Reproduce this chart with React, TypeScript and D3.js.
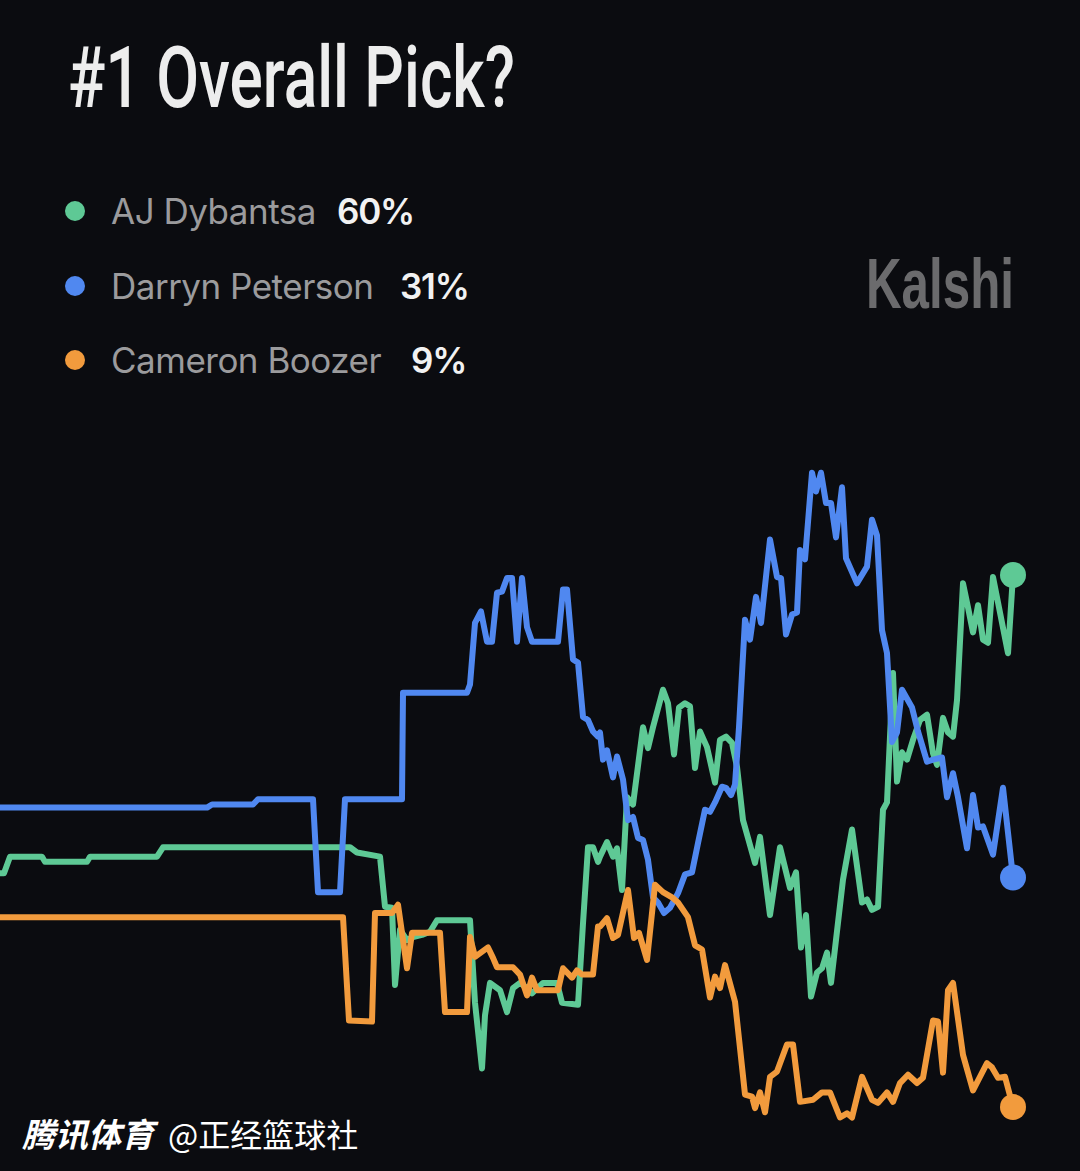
import React from "react";
import * as d3 from "d3";

const titleText = "#1 Overall Pick?";
const players = ["AJ Dybantsa", "Darryn Peterson", "Cameron Boozer"];
const latestOdds = ["60%", "31%", "9%"];
const colors = ["#5ec995", "#5088f0", "#f29b3d"];
const brand = "Kalshi";
const footerBold = "腾讯体育";
const footerRegular = "@正经篮球社";

// [time index, probability %]
const dybantsa: [number, number][] = [
  [0, 31.5], [0.4, 31.5], [1.0, 33.1], [4.2, 33.1], [4.5, 32.6], [8.7, 32.6], [9.0, 33.1], [15.7, 33.1],
  [16.3, 34.0], [35.0, 34.0], [35.7, 33.5], [38.0, 33.1], [38.5, 28.3], [39.2, 28.2], [39.5, 20.8],
  [40.0, 26.1], [40.7, 25.1], [41.3, 25.4], [42.2, 25.6], [43.0, 25.9], [43.7, 27.0], [47.0, 27.0],
  [47.5, 19.1], [48.2, 12.8], [48.5, 17.9], [49.0, 21.0], [50.0, 20.3], [50.7, 18.2], [51.3, 20.5],
  [52.0, 21.0], [52.7, 20.5], [53.2, 20.0], [54.3, 21.0], [55.7, 21.0], [56.2, 19.1], [57.8, 18.9],
  [58.3, 26.7], [58.8, 34.0], [59.3, 34.0], [59.8, 32.6], [60.0, 33.1], [60.7, 34.5], [61.3, 33.1],
  [61.7, 33.9], [62.2, 29.9], [62.7, 38.8], [63.3, 38.1], [64.3, 45.5], [64.8, 43.5], [65.3, 45.5],
  [66.3, 49.1], [66.8, 47.8], [67.4, 42.9], [67.9, 47.4], [68.5, 47.8], [69.0, 47.5], [69.5, 41.6],
  [70.0, 45.1], [70.7, 43.6], [71.5, 40.2], [72.0, 44.3], [72.6, 44.6], [73.2, 44.0], [73.7, 41.7],
  [74.3, 36.6], [75.5, 32.5], [76.0, 35.0], [77.0, 27.5], [78.0, 34.0], [79.0, 30.1], [79.6, 31.6],
  [80.1, 24.4], [80.6, 27.5], [81.1, 19.7], [81.7, 22.0], [82.2, 22.4], [82.7, 23.9], [83.1, 21.0],
  [84.3, 30.9], [85.2, 35.7], [86.2, 28.7], [86.7, 29.0], [87.2, 28.0], [87.8, 28.3], [88.3, 37.6],
  [88.7, 38.3], [89.0, 44.6], [89.3, 50.7], [89.7, 40.3], [90.2, 43.1], [90.7, 42.4], [91.3, 44.3],
  [92.0, 46.2], [92.7, 46.7], [93.3, 43.0], [93.7, 41.9], [94.3, 46.4], [94.8, 45.0], [95.3, 44.6],
  [95.7, 48.1], [96.3, 59.3], [96.8, 57.0], [97.3, 54.6], [97.8, 57.2], [98.3, 53.9], [98.8, 53.6],
  [99.3, 59.9], [100.8, 52.6], [101.3, 60.1],
];

const peterson: [number, number][] = [
  [0, 37.8], [20.7, 37.8], [21.2, 38.1], [25.3, 38.1], [25.8, 38.6], [31.3, 38.6], [31.8, 29.7],
  [34.0, 29.7], [34.5, 38.6], [40.2, 38.6], [40.3, 48.8], [46.7, 48.8], [47.0, 49.6], [47.5, 55.5],
  [48.1, 56.6], [48.7, 53.7], [49.2, 53.7], [49.7, 58.4], [50.2, 58.5], [50.7, 59.8], [51.2, 59.8],
  [51.7, 53.7], [52.2, 59.8], [52.7, 55.1], [53.2, 53.7], [55.8, 53.7], [56.3, 58.7], [56.7, 58.7],
  [57.3, 52.0], [57.8, 51.7], [58.3, 46.5], [58.8, 46.2], [59.3, 45.1], [59.8, 44.6], [60.0, 45.0],
  [60.3, 42.4], [60.7, 43.3], [61.3, 40.7], [61.7, 42.7], [62.3, 40.5], [62.8, 36.6], [63.3, 36.9],
  [63.8, 34.9], [64.3, 34.7], [64.8, 32.8], [65.3, 29.2], [65.8, 28.7], [66.4, 27.7], [67.0, 28.2],
  [67.8, 29.6], [68.5, 31.4], [69.2, 31.6], [69.8, 34.4], [70.5, 37.6], [71.0, 37.4], [71.5, 38.3],
  [72.2, 39.8], [72.6, 39.7], [73.1, 39.0], [73.5, 40.0], [73.9, 45.5], [74.5, 55.8], [75.0, 53.9],
  [75.6, 58.0], [76.1, 55.5], [77.0, 63.5], [77.7, 59.9], [78.1, 59.8], [78.6, 54.4], [79.2, 56.3],
  [79.7, 56.5], [80.0, 62.5], [80.5, 61.6], [81.2, 69.9], [81.6, 68.1], [82.1, 69.9], [82.6, 67.0],
  [83.1, 67.0], [83.6, 63.7], [84.2, 68.5], [84.6, 61.7], [85.7, 59.3], [86.7, 60.9], [87.2, 65.4],
  [87.7, 63.9], [88.2, 54.8], [88.7, 52.6], [89.2, 44.1], [89.7, 45.0], [90.2, 49.1], [91.2, 47.4],
  [91.8, 45.1], [92.7, 42.2], [93.3, 42.4], [94.2, 42.6], [94.7, 38.8], [95.3, 41.1], [95.8, 38.8],
  [96.7, 33.9], [97.3, 39.0], [97.8, 35.9], [98.3, 36.0], [99.3, 33.3], [100.3, 39.7], [101.3, 31.1],
];

const boozer: [number, number][] = [
  [0, 27.3], [34.3, 27.3], [34.9, 17.4], [37.2, 17.3], [37.5, 27.7], [39.2, 27.7], [39.8, 28.5],
  [40.7, 22.4], [41.2, 25.8], [44.0, 25.8], [44.5, 18.2], [46.7, 18.2], [47.0, 25.4], [47.5, 23.5],
  [48.8, 24.4], [49.3, 23.4], [49.7, 22.5], [51.3, 22.5], [52.0, 21.8], [52.7, 19.8], [53.2, 21.5],
  [53.7, 20.3], [55.8, 20.3], [56.3, 22.4], [57.2, 21.5], [57.7, 22.2], [58.2, 21.8], [59.3, 21.8],
  [59.8, 26.4], [60.0, 26.4], [60.7, 27.2], [61.3, 25.3], [61.8, 25.6], [62.8, 29.9], [63.4, 25.3],
  [63.9, 25.8], [64.7, 23.2], [65.5, 30.4], [66.3, 29.7], [67.2, 29.2], [67.8, 28.7], [68.8, 27.3],
  [69.5, 24.6], [70.2, 24.2], [71.0, 19.6], [71.5, 21.6], [72.0, 20.5], [72.5, 22.7], [73.5, 19.2],
  [74.5, 10.3], [75.2, 10.1], [75.5, 9.0], [76.0, 10.5], [76.5, 8.6], [77.0, 12.0], [77.7, 12.5],
  [78.7, 15.1], [79.3, 15.1], [80.0, 9.6], [81.3, 9.8], [82.2, 10.5], [83.0, 10.5], [84.0, 8.1],
  [84.7, 8.5], [85.2, 8.1], [86.2, 12.0], [87.2, 9.8], [87.8, 9.5], [88.7, 10.5], [89.3, 9.6],
  [90.0, 11.4], [90.8, 12.2], [91.7, 11.4], [92.3, 11.9], [93.3, 17.4], [93.8, 17.3], [94.3, 12.4],
  [94.8, 20.3], [95.3, 21.0], [96.3, 14.1], [97.3, 10.7], [98.7, 13.3], [99.2, 12.9], [99.8, 11.9],
  [100.5, 12.0], [101.3, 9.1],
];

const seriesList = [dybantsa, peterson, boozer];
const drawOrder = [0, 1, 2];

const W = 1080;
const H = 1171;

export default function App() {
  const x = d3.scaleLinear().domain([0, 101.3]).range([0, 1013]);
  const y = d3.scaleLinear().domain([0, 60]).range([1202, 576]);
  const line = d3
    .line<[number, number]>()
    .x((d) => x(d[0]))
    .y((d) => y(d[1]))
    .curve(d3.curveLinear);

  const legendY = [211, 286, 360];
  const pctX = [337, 400, 411];

  return (
    <svg
      width={W}
      height={H}
      viewBox={`0 0 ${W} ${H}`}
      style={{ position: "absolute", left: 0, top: 0, display: "block" }}
    >
      <rect x={0} y={0} width={W} height={H} fill="#0b0c10" />
      <text
        x={68}
        y={107}
        fill="#ededed"
        fontFamily="Roboto, 'Liberation Sans Narrow', sans-serif"
        fontWeight={500}
        fontSize={86}
        textLength={447}
        lengthAdjust="spacingAndGlyphs"
      >
        {titleText}
      </text>

      {players.map((p, i) => (
        <g key={p}>
          <circle cx={75} cy={legendY[i]} r={10} fill={colors[i]} />
          <text
            x={111}
            y={legendY[i] + 13}
            fill="#9b9b9d"
            fontFamily="Inter, 'Noto Sans', sans-serif"
            fontSize={35}
            fontWeight={400}
            letterSpacing={-0.5}
          >
            {p}
          </text>
          <text
            x={pctX[i]}
            y={legendY[i] + 13}
            fill="#f2f2f2"
            fontFamily="Inter, 'Noto Sans', sans-serif"
            fontSize={35}
            fontWeight={600}
            letterSpacing={-1.2}
          >
            {latestOdds[i]}
          </text>
        </g>
      ))}

      <text
        x={866}
        y={308}
        fill="#6b6b6d"
        fontFamily="'Liberation Sans', Arial, sans-serif"
        fontWeight={700}
        fontSize={70}
        textLength={148}
        lengthAdjust="spacingAndGlyphs"
      >
        {brand}
      </text>

      {drawOrder.map((i) => (
        <path
          key={players[i]}
          d={line(seriesList[i]) || ""}
          fill="none"
          stroke={colors[i]}
          strokeWidth={6}
          strokeLinejoin="round"
          strokeLinecap="round"
        />
      ))}
      {drawOrder.map((i) => {
        const last = seriesList[i][seriesList[i].length - 1];
        return (
          <circle
            key={"end" + i}
            cx={x(last[0])}
            cy={y(last[1])}
            r={13}
            fill={colors[i]}
          />
        );
      })}

      <text
        x={22}
        y={1147}
        fill="#ffffff"
        fontFamily="'Noto Sans CJK SC', sans-serif"
        fontWeight={700}
        fontStyle="italic"
        fontSize={33}
      >
        {footerBold}
      </text>
      <text
        x={168}
        y={1147}
        fill="#ffffff"
        fontFamily="'Noto Sans CJK SC', sans-serif"
        fontWeight={400}
        fontSize={32}
      >
        {footerRegular}
      </text>
    </svg>
  );
}
